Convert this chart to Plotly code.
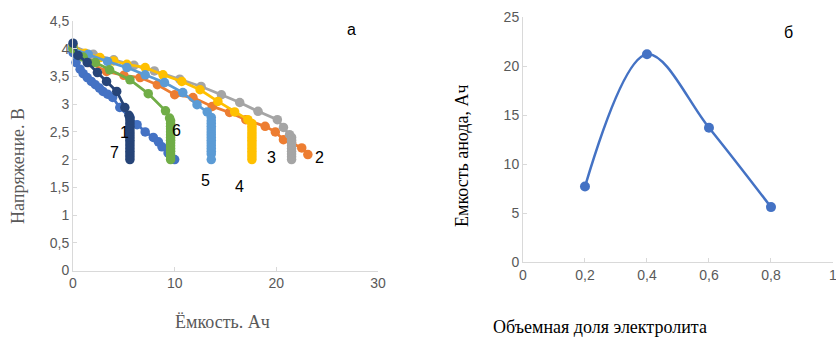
import plotly.graph_objects as go

# ---------------- data: left chart (discharge curves) ----------------
cap1 = [0, 0.3, 0.7, 1.0, 1.4, 1.8, 2.2, 2.6, 2.95, 3.4, 3.9, 4.6, 5.6, 6.3, 7.1, 7.9, 8.4, 8.75, 9.35, 10.0]
v1 = [3.93, 3.75, 3.63, 3.55, 3.48, 3.41, 3.35, 3.29, 3.23, 3.18, 3.12, 2.94, 2.76, 2.63, 2.5, 2.4, 2.32, 2.23, 2.12, 2.0]

cap2 = [0, 0.8, 1.6, 3.3, 5.0, 6.6, 8.3, 10.0, 11.8, 13.7, 15.4, 17.0, 18.9, 19.9, 20.7, 21.5, 22.5, 23.1]
v2 = [4.0, 3.88, 3.75, 3.59, 3.52, 3.48, 3.35, 3.17, 3.12, 2.96, 2.85, 2.72, 2.6, 2.5, 2.36, 2.3, 2.21, 2.09]

cap3 = [0, 2.0, 4.0, 6.0, 8.0, 10.5, 12.6, 14.6, 16.4, 18.2, 20.1, 20.7, 21.3,
        21.5, 21.5, 21.5, 21.5, 21.5, 21.5, 21.5, 21.5, 21.5]
v3 = [4.05, 3.9, 3.8, 3.7, 3.6, 3.45, 3.32, 3.17, 3.03, 2.87, 2.72, 2.58, 2.45,
      2.4, 2.35, 2.3, 2.25, 2.2, 2.15, 2.1, 2.05, 2.0]

cap4 = [0, 1.2, 2.65, 4.0, 5.3, 7.1, 8.85, 10.7, 12.5, 14.25, 15.9, 17.2,
        17.6, 17.6, 17.6, 17.6, 17.6, 17.6, 17.6, 17.6, 17.6, 17.6, 17.6, 17.6, 17.6, 17.6]
v4 = [4.05, 3.92, 3.84, 3.78, 3.72, 3.66, 3.53, 3.41, 3.26, 3.05, 2.86, 2.72,
      2.65, 2.6, 2.55, 2.5, 2.45, 2.4, 2.35, 2.3, 2.25, 2.2, 2.15, 2.1, 2.05, 2.0]

cap5 = [0, 1.5, 3.4, 5.3, 7.1, 9.0, 10.8, 12.2, 13.2, 13.6,
        13.6, 13.6, 13.6, 13.6, 13.6, 13.6, 13.6, 13.6, 13.6, 13.6, 13.6, 13.6, 13.6, 13.6]
v5 = [4.0, 3.9, 3.77, 3.66, 3.53, 3.39, 3.21, 2.99, 2.86, 2.76,
      2.7, 2.65, 2.6, 2.55, 2.5, 2.45, 2.4, 2.35, 2.3, 2.25, 2.2, 2.15, 2.1, 2.0]

cap6 = [0, 1.0, 2.2, 3.6, 5.6, 7.4, 9.1, 9.5,
        9.6, 9.6, 9.6, 9.6, 9.6, 9.6, 9.6, 9.6, 9.6, 9.6, 9.6, 9.6, 9.6, 9.6, 9.6]
v6 = [4.0, 3.85, 3.75, 3.62, 3.44, 3.19, 2.88, 2.75,
      2.7, 2.65, 2.6, 2.55, 2.5, 2.45, 2.4, 2.35, 2.3, 2.25, 2.2, 2.15, 2.1, 2.05, 2.0]

cap7 = [0, 0.5, 1.4, 2.4, 3.3, 4.3, 5.1, 5.5,
        5.6, 5.6, 5.6, 5.6, 5.6, 5.6, 5.6, 5.6, 5.6, 5.6, 5.6, 5.6, 5.6, 5.6, 5.6, 5.6]
v7 = [4.1, 3.88, 3.75, 3.57, 3.41, 3.23, 2.94, 2.8,
      2.75, 2.7, 2.65, 2.6, 2.55, 2.5, 2.45, 2.4, 2.35, 2.3, 2.25, 2.2, 2.15, 2.1, 2.05, 2.0]

series_caps = [cap1, cap2, cap3, cap4, cap5, cap6, cap7]
series_volts = [v1, v2, v3, v4, v5, v6, v7]
series_colors = ["#4472C4", "#ED7D31", "#A5A5A5", "#FFC000", "#5B9BD5", "#70AD47", "#264478"]

# curve number labels (text, capacity, voltage)
label_text = ["1", "7", "6", "5", "4", "3", "2"]
label_cap = [5.1, 4.1, 10.2, 13.0, 16.4, 19.5, 24.2]
label_volt = [2.49, 2.12, 2.52, 1.62, 1.52, 2.03, 2.03]

left_xticks = [0, 10, 20, 30]
left_yticks = [0, 0.5, 1, 1.5, 2, 2.5, 3, 3.5, 4, 4.5]
left_yticklabels = ["0", "0,5", "1", "1,5", "2", "2,5", "3", "3,5", "4", "4,5"]

# ---------------- data: right chart ----------------
frac = [0.2, 0.4, 0.6, 0.8]
anode_cap = [7.7, 21.2, 13.7, 5.6]
right_xticks = [0, 0.2, 0.4, 0.6, 0.8, 1.0]
right_xticklabels = ["0", "0,2", "0,4", "0,6", "0,8", "1"]
right_yticks = [0, 5, 10, 15, 20, 25]

W, H = 836, 337

fig = go.Figure()
for c, v, col in zip(series_caps, series_volts, series_colors):
    fig.add_trace(go.Scatter(x=c, y=v, mode="lines+markers", xaxis="x", yaxis="y",
                             line=dict(color=col, width=2.75),
                             marker=dict(color=col, size=9.5), showlegend=False,
                             cliponaxis=False))

fig.add_trace(go.Scatter(x=frac, y=anode_cap, mode="lines+markers", xaxis="x2", yaxis="y2",
                         line=dict(color="#4472C4", width=2.5, shape="spline", smoothing=1.0),
                         marker=dict(color="#4472C4", size=10), showlegend=False))

tickfont = dict(family="Liberation Sans, Arial", size=14, color="#595959")
axis_common = dict(showgrid=False, zeroline=False, showline=True, linecolor="#D9D9D9",
                   linewidth=1, ticks="inside", ticklen=4, tickcolor="#D9D9D9",
                   tickfont=tickfont, automargin=False, ticklabeloverflow="allow")

fig.update_layout(
    width=W, height=H,
    margin=dict(l=0, r=0, t=0, b=0),
    paper_bgcolor="white", plot_bgcolor="white",
    template="none",
    xaxis=dict(domain=[73 / W, 378 / W], range=[0, 30], tickvals=left_xticks,
               anchor="y", **axis_common),
    yaxis=dict(domain=[1 - 270.5 / H, 1 - 21 / H], range=[0, 4.5], tickvals=left_yticks,
               ticktext=left_yticklabels, anchor="x", **axis_common),
    xaxis2=dict(domain=[523 / W, 833 / W], range=[0, 1.0001], tickvals=right_xticks,
                ticktext=right_xticklabels, anchor="y2", **axis_common),
    yaxis2=dict(domain=[1 - 262 / H, 1 - 17 / H], range=[0, 25], tickvals=right_yticks,
                anchor="x2", **axis_common),
)

ann = []
lab_font = dict(family="Liberation Sans, Arial", size=16, color="black")
for t, cx, cy in zip(label_text, label_cap, label_volt):
    ann.append(dict(x=cx, y=cy, xref="x", yref="y", text=t, showarrow=False,
                    xanchor="center", yanchor="middle", font=lab_font))
ann.append(dict(x=27.4, y=4.35, xref="x", yref="y", text="а", showarrow=False,
                xanchor="center", yanchor="middle", font=lab_font))
ann.append(dict(x=0.855, y=23.4, xref="x2", yref="y2", text="б", showarrow=False,
                xanchor="center", yanchor="middle", font=lab_font))

title_specs = [
    ("Напряжение. В", 18, 166, -90, 18, "#595959"),
    ("Ёмкость. Ач", 222, 322, 0, 18, "#595959"),
    ("Емкость анода, Ач", 462, 156, -90, 18, "black"),
    ("Объемная доля электролита", 600, 327, 0, 18, "black"),
]
for txt, px, py, ang, sz, colr in title_specs:
    ann.append(dict(x=px / W, y=1 - py / H, xref="paper", yref="paper", text=txt,
                    textangle=ang, showarrow=False, xanchor="center", yanchor="middle",
                    font=dict(family="Liberation Serif", size=sz, color=colr)))
fig.update_layout(annotations=ann)

fig.write_html("out.html")
